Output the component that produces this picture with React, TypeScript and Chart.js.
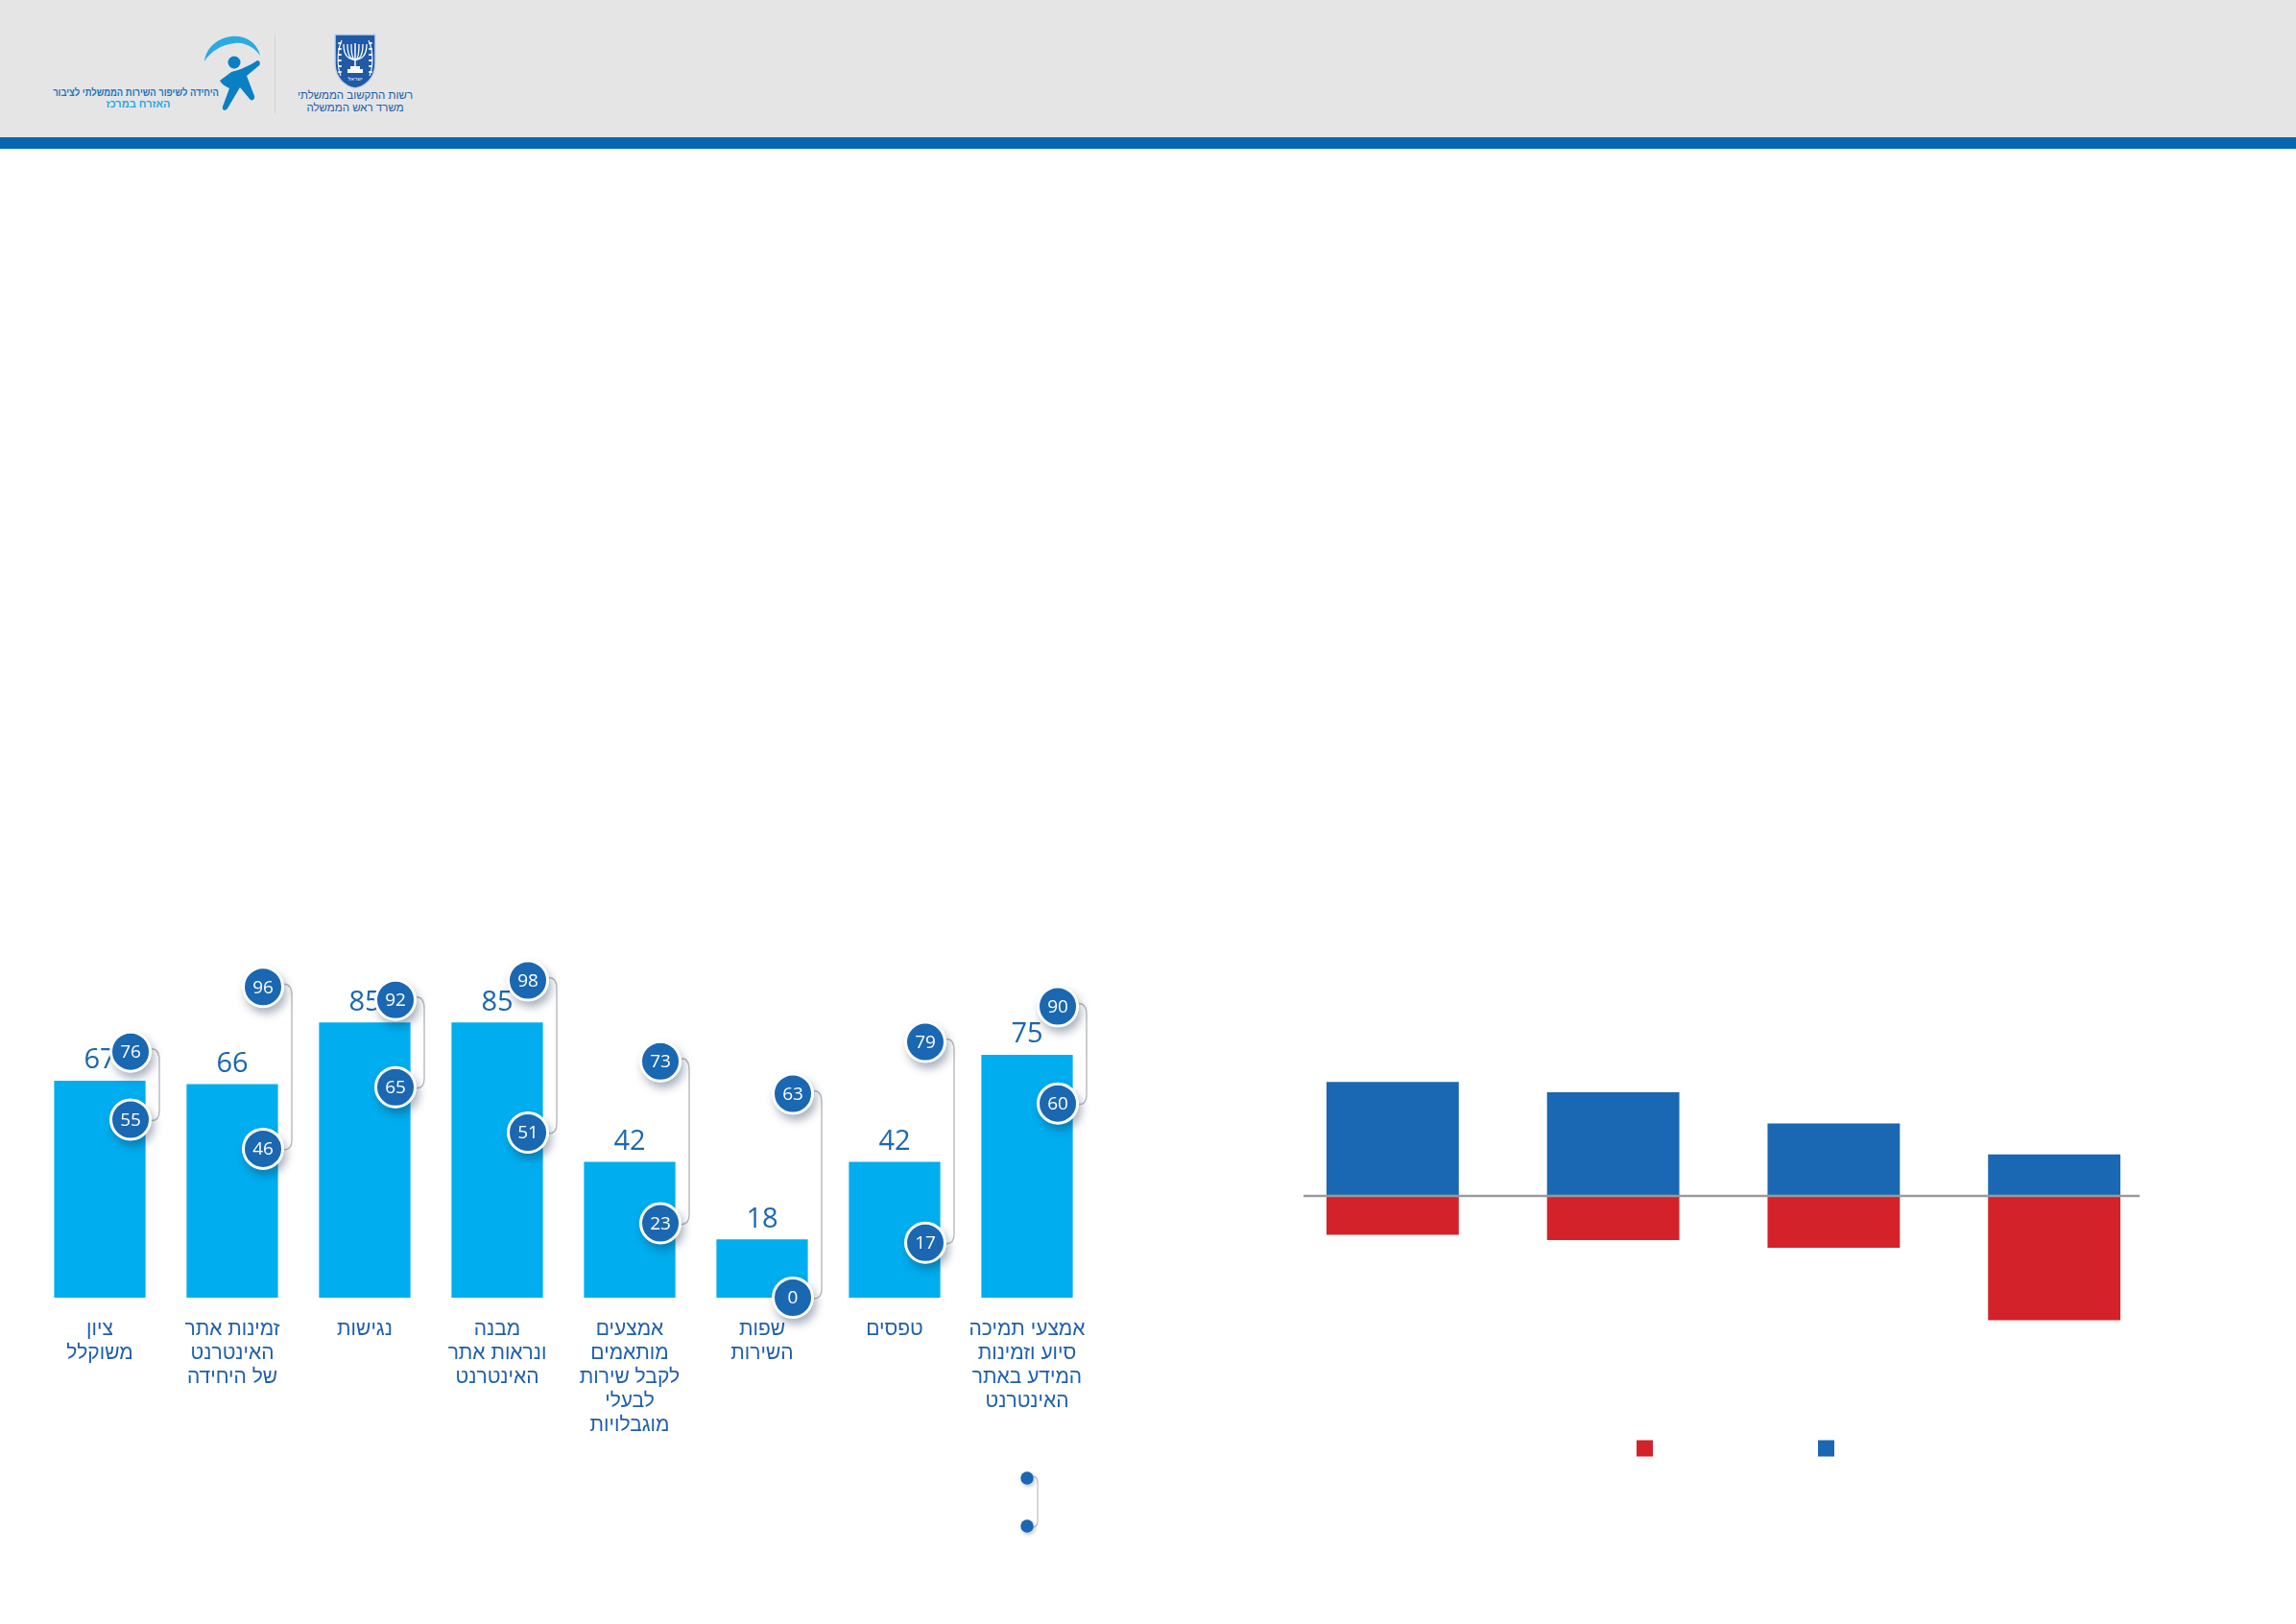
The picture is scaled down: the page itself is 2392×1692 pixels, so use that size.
import React, { useEffect, useRef } from 'react';
import { Chart, registerables } from 'chart.js';

Chart.register(...registerables);

// ---- Scores by category (left chart) ----
const categories: string[][] = [
  ['ציון', 'משוקלל'],
  ['זמינות אתר', 'האינטרנט', 'של היחידה'],
  ['נגישות'],
  ['מבנה', 'ונראות אתר', 'האינטרנט'],
  ['אמצעים', 'מותאמים', 'לקבל שירות', 'לבעלי', 'מוגבלויות'],
  ['שפות', 'השירות'],
  ['טפסים'],
  ['אמצעי תמיכה', 'סיוע וזמינות', 'המידע באתר', 'האינטרנט'],
];
const averageScores = [67, 66, 85, 85, 42, 18, 42, 75];
const maxScores = [76, 96, 92, 98, 73, 63, 79, 90];
const minScores = [55, 46, 65, 51, 23, 0, 17, 60];

// ---- Positive / negative shares (right chart) ----
const groups = ['1', '2', '3', '4'];
const positiveShares = [44, 40, 28, 16];
const negativeShares = [-15, -17, -20, -48];

const DARK_BLUE = '#1a67b2';
const CYAN = '#00adee';
const RED = '#d3222a';
const NUM_FONT = '"Open Sans", "Liberation Sans", "DejaVu Sans", sans-serif';
const HEB_FONT = '"Liberation Sans Narrow", "Liberation Sans", "DejaVu Sans", sans-serif';

const scoreMarks = {
  id: 'scoreMarks',
  beforeDatasetsDraw(chart: any) {
    const ctx = chart.ctx;
    const hi = chart.getDatasetMeta(1).data;
    const lo = chart.getDatasetMeta(2).data;
    ctx.save();
    ctx.strokeStyle = '#b9b9b9';
    ctx.lineWidth = 1.4;
    hi.forEach((t: any, i: number) => {
      const b = lo[i];
      const r = 22;
      const lx = t.x + 30;
      ctx.beginPath();
      ctx.moveTo(t.x + r, t.y - 3);
      ctx.quadraticCurveTo(lx, t.y - 3, lx, t.y + 9);
      ctx.lineTo(lx, b.y - 9);
      ctx.quadraticCurveTo(lx, b.y + 1, b.x + r, b.y + 1);
      ctx.stroke();
    });
    ctx.restore();
  },
  beforeDatasetDraw(chart: any, args: any) {
    if (args.index === 0) return;
    // soft drop shadow under the max / min circles
    const ctx = chart.ctx;
    ctx.save();
    ctx.shadowColor = 'rgba(25, 45, 80, 0.38)';
    ctx.shadowBlur = 10;
    ctx.shadowOffsetX = 3;
    ctx.shadowOffsetY = 6;
    ctx.fillStyle = '#ffffff';
    args.meta.data.forEach((p: any) => {
      ctx.beginPath();
      ctx.arc(p.x, p.y, 21.5, 0, Math.PI * 2);
      ctx.fill();
    });
    ctx.restore();
  },
  afterDatasetDraw(chart: any, args: any) {
    const ctx = chart.ctx;
    ctx.save();
    ctx.textAlign = 'center';
    ctx.textBaseline = 'middle';
    if (args.index === 0) {
      // average value above each bar
      ctx.fillStyle = DARK_BLUE;
      ctx.font = `400 29px ${NUM_FONT}`;
      args.meta.data.forEach((bar: any, i: number) => {
        ctx.fillText(String(chart.data.datasets[0].data[i]), bar.x, bar.y - 21);
      });
    } else {
      // number inside each circle
      ctx.fillStyle = '#ffffff';
      ctx.font = `500 19px ${NUM_FONT}`;
      args.meta.data.forEach((p: any, i: number) => {
        ctx.fillText(String(chart.data.datasets[args.index].data[i].y), p.x, p.y + 1);
      });
    }
    ctx.restore();
  },
  afterDraw(chart: any) {
    // max / min key under the last category
    const ctx = chart.ctx;
    const bars = chart.getDatasetMeta(0).data;
    const x = bars[bars.length - 1].x;
    const y1 = chart.chartArea.bottom + 188;
    const y2 = y1 + 50;
    ctx.save();
    ctx.strokeStyle = '#bdbdbd';
    ctx.lineWidth = 1.2;
    ctx.beginPath();
    ctx.moveTo(x + 6, y1 - 2);
    ctx.quadraticCurveTo(x + 11, y1 - 2, x + 11, y1 + 5);
    ctx.lineTo(x + 11, y2 - 5);
    ctx.quadraticCurveTo(x + 11, y2 + 1, x + 6, y2 + 1);
    ctx.stroke();
    ctx.shadowColor = 'rgba(25, 45, 80, 0.3)';
    ctx.shadowBlur = 4;
    ctx.shadowOffsetX = 1.5;
    ctx.shadowOffsetY = 2;
    ctx.fillStyle = DARK_BLUE;
    [y1, y2].forEach((y) => {
      ctx.beginPath();
      ctx.arc(x, y, 6.7, 0, Math.PI * 2);
      ctx.fill();
    });
    ctx.restore();
  },
};

function ScoresChart() {
  const ref = useRef<HTMLCanvasElement>(null);
  useEffect(() => {
    if (!ref.current) return;
    // circles sit a little to the right of each bar's centre
    const shift = 0.232;
    const chart = new Chart(ref.current, {
      type: 'bar',
      data: {
        labels: categories,
        datasets: [
          {
            type: 'bar',
            label: 'ממוצע',
            data: averageScores,
            backgroundColor: CYAN,
            barPercentage: 0.69,
            categoryPercentage: 1,
            grouped: false,
            order: 3,
          } as any,
          {
            type: 'scatter',
            label: 'מקסימום',
            data: maxScores.map((v, i) => ({ x: i, y: v })),
            xAxisID: 'x2',
            pointRadius: 20.5,
            pointBorderWidth: 3,
            pointBackgroundColor: DARK_BLUE,
            pointBorderColor: '#ffffff',
            clip: false,
            order: 1,
          },
          {
            type: 'scatter',
            label: 'מינימום',
            data: minScores.map((v, i) => ({ x: i, y: v })),
            xAxisID: 'x2',
            pointRadius: 20.5,
            pointBorderWidth: 3,
            pointBackgroundColor: DARK_BLUE,
            pointBorderColor: '#ffffff',
            clip: false,
            order: 2,
          },
        ],
      },
      options: {
        responsive: false,
        animation: false,
        events: [],
        layout: { padding: { left: 35, right: 41, top: 101, bottom: 121 } },
        plugins: { legend: { display: false }, tooltip: { enabled: false } },
        scales: {
          x: {
            grid: { display: false, drawTicks: false },
            border: { display: false },
            ticks: {
              color: '#1d5fae',
              font: { family: HEB_FONT, size: 21, lineHeight: 1.19 },
              padding: 21,
              maxRotation: 0,
              autoSkip: false,
            },
          },
          x2: {
            type: 'linear',
            display: false,
            offset: false,
            grid: { offset: false },
            min: -0.5 - shift,
            max: 7.5 - shift,
            bounds: 'data',
          },
          y: { display: false, min: 0, max: 110 },
        },
      } as any,
      plugins: [scoreMarks],
    });
    return () => chart.destroy();
  }, []);
  return (
    <canvas
      ref={ref}
      width={1180}
      height={760}
      style={{ position: 'absolute', left: 0, top: 880, width: 1180, height: 760 }}
    />
  );
}

const balanceMarks = {
  id: 'balanceMarks',
  afterDatasetsDraw(chart: any) {
    const ctx = chart.ctx;
    const bars = chart.getDatasetMeta(0).data;
    const first = bars[0];
    const last = bars[bars.length - 1];
    const y = chart.scales.y.getPixelForValue(0);
    ctx.save();
    ctx.strokeStyle = '#9a9a9a';
    ctx.lineWidth = 2.5;
    ctx.beginPath();
    ctx.moveTo(first.x - first.width / 2 - 24, y);
    ctx.lineTo(last.x + last.width / 2 + 20, y);
    ctx.stroke();
    ctx.restore();
  },
  afterDraw(chart: any) {
    // colour key squares
    const ctx = chart.ctx;
    const bars = chart.getDatasetMeta(0).data;
    const cx = (bars[0].x + bars[bars.length - 1].x) / 2;
    const y = chart.chartArea.bottom + 101;
    const s = 17;
    ctx.save();
    ctx.fillStyle = RED;
    ctx.fillRect(cx - 82 - s / 2, y - s / 2, s, s);
    ctx.fillStyle = '#1a68b3';
    ctx.fillRect(cx + 107 - s / 2, y - s / 2, s, s);
    ctx.restore();
  },
};

function BalanceChart() {
  const ref = useRef<HTMLCanvasElement>(null);
  useEffect(() => {
    if (!ref.current) return;
    const chart = new Chart(ref.current, {
      type: 'bar',
      data: {
        labels: groups,
        datasets: [
          {
            label: 'חיובי',
            data: positiveShares,
            backgroundColor: '#1a68b3',
            barPercentage: 0.6,
            categoryPercentage: 1,
          },
          {
            label: 'שלילי',
            data: negativeShares,
            backgroundColor: RED,
            barPercentage: 0.6,
            categoryPercentage: 1,
          },
        ],
      },
      options: {
        responsive: false,
        animation: false,
        events: [],
        layout: { padding: { left: 36, right: 45, top: 44, bottom: 152 } },
        plugins: { legend: { display: false }, tooltip: { enabled: false } },
        scales: {
          x: { stacked: true, display: false },
          y: { stacked: true, display: false, min: -60, max: 60 },
        },
      } as any,
      plugins: [balanceMarks],
    });
    return () => chart.destroy();
  }, []);
  return (
    <canvas
      ref={ref}
      width={1000}
      height={520}
      style={{ position: 'absolute', left: 1300, top: 1040, width: 1000, height: 520 }}
    />
  );
}

function Emblem() {
  const arcs = [4, 8, 12];
  return (
    <svg
      width={46}
      height={58}
      viewBox="0 0 46 58"
      style={{ position: 'absolute', left: 347, top: 35 }}
    >
      <path
        d="M2,1 H44 V31 C44,46 34,55 23,57 C12,55 2,46 2,31 Z"
        fill="#1f5aa6"
        stroke="#c8d5ea"
        strokeWidth={1.5}
      />
      {arcs.map((k) => (
        <path
          key={k}
          d={`M${23 - k},11 Q${23 - k},27 23,27 Q${23 + k},27 ${23 + k},11`}
          fill="none"
          stroke="#fff"
          strokeWidth={1.3}
        />
      ))}
      <line x1={23} y1={10} x2={23} y2={35} stroke="#fff" strokeWidth={1.5} />
      <rect x={18} y={34} width={10} height={3} fill="#fff" />
      <rect x={15} y={37} width={16} height={4} fill="#fff" />
      <path d="M8,44 C4,34 4,18 9,7" fill="none" stroke="#fff" strokeWidth={1.1} />
      <path d="M38,44 C42,34 42,18 37,7" fill="none" stroke="#fff" strokeWidth={1.1} />
      {[10, 16, 22, 28, 34, 40].map((y) => (
        <g key={y}>
          <ellipse cx={7} cy={y} rx={2.2} ry={1.1} fill="#fff" />
          <ellipse cx={39} cy={y} rx={2.2} ry={1.1} fill="#fff" />
        </g>
      ))}
      <text x={23} y={49} textAnchor="middle" fontSize={5.5} fill="#fff" fontFamily="DejaVu Sans">
        ישראל
      </text>
    </svg>
  );
}

function ServiceLogo() {
  return (
    <svg
      width={70}
      height={84}
      viewBox="0 0 70 84"
      style={{ position: 'absolute', left: 205, top: 34 }}
    >
      <path
        d="M8,30 C10,12 28,2 44,4 C56,6 64,14 66,24 C60,15 50,10 40,11 C26,12 14,20 8,30 Z"
        fill="#29abe2"
      />
      <circle cx={39} cy={31} r={6.5} fill="#0b7fc4" />
      <path
        d="M24,50 L36,41 C44,39 54,35 63,29 C66,29 67,33 64,35 L52,45 L60,66 C61,70 57,72 55,69 L45,57 L32,79 C30,82 26,81 27,77 L34,58 C30,56 26,54 24,50 Z"
        fill="#0b7fc4"
      />
    </svg>
  );
}

function Header() {
  const heb = '"Liberation Sans", "DejaVu Sans", sans-serif';
  return (
    <>
      <div style={{ position: 'absolute', left: 0, top: 0, width: 2392, height: 143, background: '#e6e5e6' }} />
      <div style={{ position: 'absolute', left: 0, top: 143, width: 2392, height: 12, background: '#0566b2' }} />
      <ServiceLogo />
      <div
        style={{
          position: 'absolute', left: 0, width: 228, top: 90, textAlign: 'right', direction: 'rtl',
          fontSize: 11.5, fontWeight: 700, color: '#1b75bb', fontFamily: heb, whiteSpace: 'nowrap', lineHeight: '13px',
          transform: 'scaleX(0.82)', transformOrigin: '228px 0',
        }}
      >
        היחידה לשיפור השירות הממשלתי לציבור
      </div>
      <div
        style={{
          position: 'absolute', left: 84, width: 120, top: 102, textAlign: 'center', direction: 'rtl',
          fontSize: 11, fontWeight: 700, color: '#28a9e1', fontFamily: heb, whiteSpace: 'nowrap', lineHeight: '13px',
        }}
      >
        האזרח במרכז
      </div>
      <div style={{ position: 'absolute', left: 286, top: 37, width: 1, height: 81, background: '#d2d2d2' }} />
      <Emblem />
      <div
        style={{
          position: 'absolute', left: 300, width: 140, top: 93, textAlign: 'center', direction: 'rtl',
          fontSize: 11.5, color: '#2060a8', fontFamily: heb, whiteSpace: 'nowrap', lineHeight: '13px',
        }}
      >
        רשות התקשוב הממשלתי
        <br />
        משרד ראש הממשלה
      </div>
    </>
  );
}

export default function App() {
  return (
    <div
      style={{
        position: 'absolute', left: 0, top: 0, width: 2392, height: 1692,
        background: '#ffffff', overflow: 'hidden',
      }}
    >
      <Header />
      <ScoresChart />
      <BalanceChart />
    </div>
  );
}
